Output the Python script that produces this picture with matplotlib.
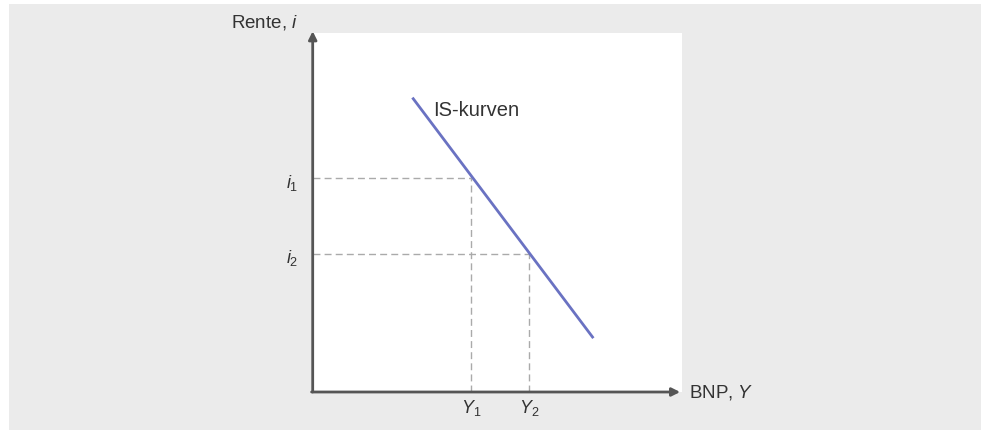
import matplotlib
matplotlib.use("Agg")
import matplotlib.pyplot as plt
from matplotlib.patches import Rectangle

# IS curve and the two equilibrium points
is_x = [2.7, 7.6]
is_y = [8.2, 1.5]
y_points = [4.3, 5.85]
i_points = [5.95, 3.85]
y_labels = ["$Y_\\mathrm{1}$", "$Y_\\mathrm{2}$"]
i_labels = ["$i_\\mathrm{1}$", "$i_\\mathrm{2}$"]

font = ["Liberation Sans Narrow", "Liberation Sans", "DejaVu Sans"]
plt.rcParams["font.family"] = font
plt.rcParams["mathtext.fontset"] = "custom"
plt.rcParams["mathtext.rm"] = "Liberation Sans"
plt.rcParams["mathtext.it"] = "Liberation Sans:italic"

W, H = 981, 430
fig = plt.figure(figsize=(W / 100, H / 100), dpi=100, facecolor="white")
fig.patches.append(Rectangle((9 / W, 0), 1, 426 / H, transform=fig.transFigure,
                             facecolor="#ebebeb", edgecolor="none", zorder=-10))

left, right, top, bottom = 312.7, 682, 33, 392
ax = fig.add_axes([left / W, 1 - bottom / H, (right - left) / W, (bottom - top) / H])
ax.set_facecolor("white")
ax.set_xlim(0, 10)
ax.set_ylim(0, 10)
for s in ax.spines.values():
    s.set_visible(False)
ax.set_xticks([])
ax.set_yticks([])

axis_col = "#555555"
# axes with arrow heads
ax.annotate("", xy=(0, 1.005), xytext=(0, 0), xycoords="axes fraction",
            arrowprops=dict(arrowstyle="-|>", color=axis_col, lw=2,
                            mutation_scale=12, shrinkA=0, shrinkB=0), annotation_clip=False)
ax.annotate("", xy=(0.995, 0), xytext=(-0.003, 0), xycoords="axes fraction",
            arrowprops=dict(arrowstyle="-|>", color=axis_col, lw=2,
                            mutation_scale=12, shrinkA=0, shrinkB=0), annotation_clip=False)

# guide lines
for yx, iy in zip(y_points, i_points):
    ax.plot([0, yx], [iy, iy], color="#aaaaaa", lw=1, dashes=(5, 3))
    ax.plot([yx, yx], [0, iy], color="#aaaaaa", lw=1, dashes=(5, 3))

ax.plot(is_x, is_y, color="#6a72c2", lw=2, solid_capstyle="butt")
ax.text(is_x[0] + 0.57, 7.85, "IS-kurven", fontsize=14.5, color="#333333", va="center", ha="left")

txt = "#333333"
for yx, lab in zip(y_points, y_labels):
    ax.text(yx, -0.45, lab, fontsize=13, color=txt, ha="center", va="center", clip_on=False)
for iy, lab in zip(i_points, i_labels):
    ax.text(-0.4, iy - 0.12, lab, fontsize=13, color=txt, ha="right", va="center", clip_on=False)

ax.text(-0.4, 10.3, "Rente, $i$", fontsize=13.5, color=txt, ha="right", va="center", clip_on=False)
ax.text(10.2, 0.0, "BNP, $Y$", fontsize=13.5, color=txt, ha="left", va="center", clip_on=False)

fig.savefig("out.png", dpi=100, facecolor=fig.get_facecolor())
